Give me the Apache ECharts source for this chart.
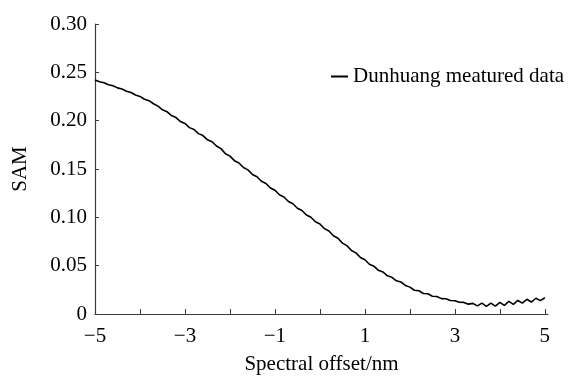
<!DOCTYPE html>
<html>
<head>
<meta charset="utf-8">
<script src="https://cdn.jsdelivr.net/npm/echarts@6/dist/echarts.min.js"></script>
<style>html,body{margin:0;padding:0;background:#fff;}#chart{width:569px;height:380px;}</style>
</head>
<body>
<div id="chart"></div>
<script>
var seriesName = 'Dunhuang meatured data';
var xTitle = 'Spectral offset/nm';
var yTitle = 'SAM';
var offsets = [
-5.0,-4.9,-4.8,-4.7,-4.6,-4.5,-4.4,-4.3,-4.2,-4.1,
-4.0,-3.9,-3.8,-3.7,-3.6,-3.5,-3.4,-3.3,-3.2,-3.1,
-3.0,-2.9,-2.8,-2.7,-2.6,-2.5,-2.4,-2.3,-2.2,-2.1,
-2.0,-1.9,-1.8,-1.7,-1.6,-1.5,-1.4,-1.3,-1.2,-1.1,
-1.0,-0.9,-0.8,-0.7,-0.6,-0.5,-0.4,-0.3,-0.2,-0.1,
0.0,0.1,0.2,0.3,0.4,0.5,0.6,0.7,0.8,0.9,
1.0,1.1,1.2,1.3,1.4,1.5,1.6,1.7,1.8,1.9,
2.0,2.1,2.2,2.3,2.4,2.5,2.6,2.7,2.8,2.9,
3.0,3.1,3.2,3.3,3.4,3.5,3.6,3.7,3.8,3.9,
4.0,4.1,4.2,4.3,4.4,4.5,4.6,4.7,4.8,4.9,
5.0];
var samValues = [
0.2420,0.2402,0.2393,0.2371,0.2361,0.2339,0.2328,0.2304,0.2291,0.2265,
0.2251,0.2222,0.2207,0.2175,0.2150,0.2112,0.2093,0.2053,0.2032,0.1991,
0.1971,0.1928,0.1909,0.1866,0.1846,0.1802,0.1782,0.1738,0.1711,0.1657,
0.1633,0.1586,0.1562,0.1515,0.1491,0.1443,0.1420,0.1373,0.1350,0.1303,
0.1280,0.1233,0.1210,0.1164,0.1141,0.1094,0.1071,0.1024,0.1001,0.0954,
0.0931,0.0883,0.0858,0.0809,0.0783,0.0733,0.0707,0.0657,0.0632,0.0584,
0.0561,0.0515,0.0495,0.0452,0.0435,0.0395,0.0380,0.0343,0.0331,0.0296,
0.0278,0.0246,0.0240,0.0212,0.0209,0.0183,0.0181,0.0159,0.0158,0.0139,
0.0137,0.0121,0.0120,0.0102,0.0110,0.0084,0.0112,0.0078,0.0113,0.0082,
0.0120,0.0090,0.0130,0.0100,0.0140,0.0112,0.0152,0.0124,0.0163,0.0138,
0.0168];
var xTickLabels = ['\u22125','\u22123','\u22121','1','3','5'];
var yTickLabels = ['0','0.05','0.10','0.15','0.20','0.25','0.30'];

var data = offsets.map(function(x, i){ return [x, samValues[i]]; });
var font = 'Liberation Serif';
var axisColor = '#3a3a3a';
var chart = echarts.init(document.getElementById('chart'), null, {renderer:'canvas'});
chart.setOption({
  animation: false,
  backgroundColor: '#fff',
  grid: {left: 95, right: 21, top: 24, bottom: 65, containLabel: false},
  legend: {
    left: 326, top: 61,
    itemWidth: 17, itemHeight: 2, icon: 'rect',
    textStyle: {fontFamily: font, fontSize: 21, color: '#000'},
    data: [seriesName]
  },
  xAxis: {
    type: 'value', min: -5, max: 5.07, interval: 1,
    name: xTitle, nameLocation: 'middle', nameGap: 40,
    nameTextStyle: {fontFamily: font, fontSize: 21, color: '#000'},
    axisLine: {show: true, onZero: false, lineStyle: {color: axisColor, width: 1.2}},
    axisTick: {show: true, inside: true, length: 5, lineStyle: {color: axisColor}},
    splitLine: {show: false},
    axisLabel: {
      showMaxLabel: false, margin: 12,
      fontFamily: font, fontSize: 21, color: '#000',
      formatter: function(v){
        var r = Math.round(v);
        if (Math.abs(v - r) > 1e-6 || Math.abs(r) % 2 !== 1) return '';
        return xTickLabels[(r + 5) / 2];
      }
    }
  },
  yAxis: {
    type: 'value', min: 0, max: 0.30, interval: 0.05,
    name: yTitle, nameLocation: 'middle', nameGap: 64, nameRotate: 90,
    nameTextStyle: {fontFamily: font, fontSize: 21, color: '#000'},
    axisLine: {show: true, onZero: false, lineStyle: {color: axisColor, width: 1.2}},
    axisTick: {show: true, inside: true, length: 4, lineStyle: {color: axisColor}},
    splitLine: {show: false},
    axisLabel: {
      margin: 8, fontFamily: font, fontSize: 21, color: '#000',
      formatter: function(v){ return yTickLabels[Math.round(v / 0.05)]; }
    }
  },
  series: [{
    name: seriesName, type: 'line', data: data,
    showSymbol: false, symbol: 'none', smooth: false,
    lineStyle: {color: '#000', width: 1.6},
    itemStyle: {color: '#000'}
  }]
});
</script>
</body>
</html>
